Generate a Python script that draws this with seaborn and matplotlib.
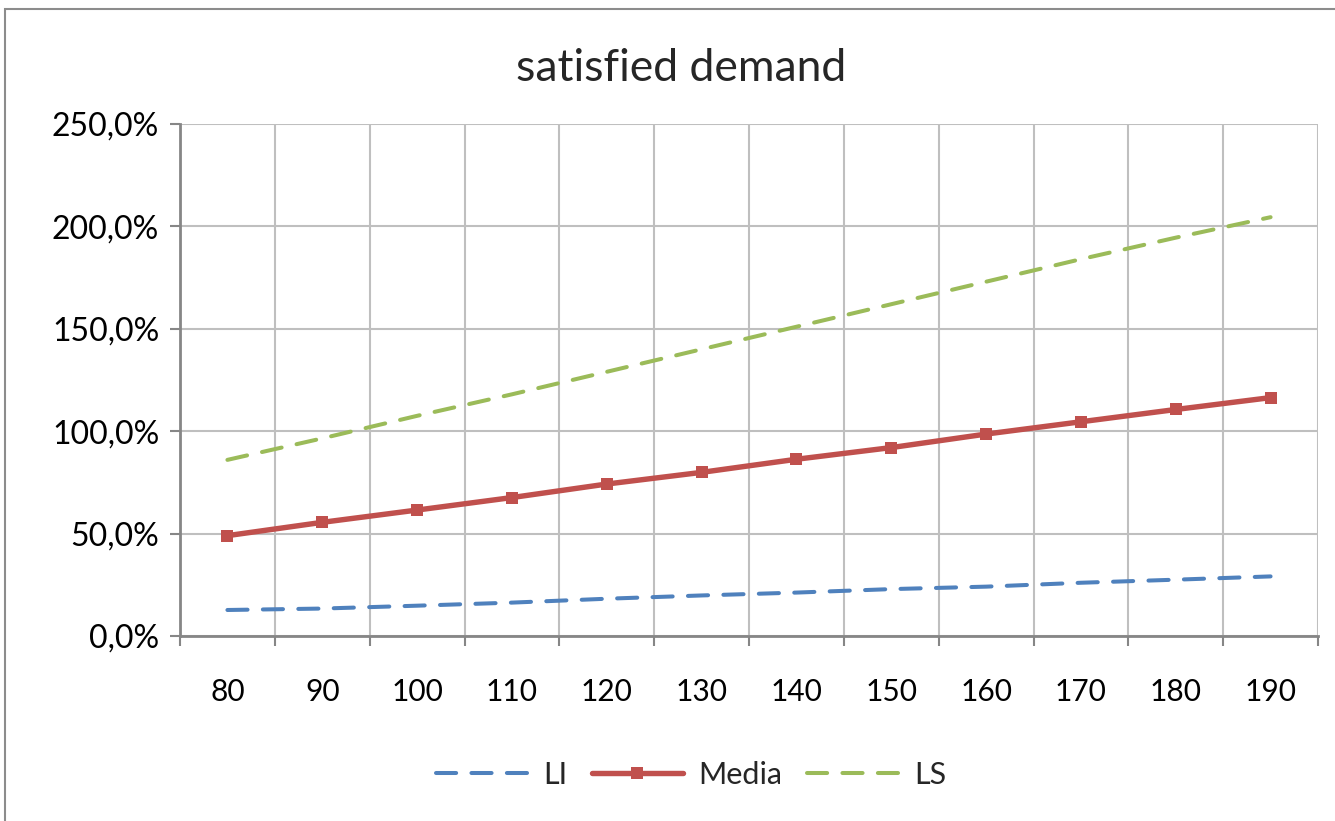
import numpy as np
import pandas as pd
import matplotlib
matplotlib.use("Agg")
import matplotlib.pyplot as plt
import seaborn as sns
from matplotlib.ticker import FuncFormatter, FixedLocator
from matplotlib.patches import Rectangle

# values (percent)
categories = ["80", "90", "100", "110", "120", "130", "140", "150", "160", "170", "180", "190"]
li = [12.7, 13.4, 14.8, 16.3, 18.2, 19.8, 21.2, 22.9, 24.1, 26.0, 27.5, 29.1]
media = [49.0, 55.5, 61.5, 67.6, 74.2, 79.9, 86.3, 92.0, 98.6, 104.6, 110.6, 116.4]
ls = [86.0, 96.5, 107.5, 118.0, 129.0, 140.0, 151.0, 162.0, 173.0, 184.0, 194.5, 204.5]
y_ticks = [0, 50, 100, 150, 200, 250]

pos = np.arange(len(categories))
df = pd.DataFrame({"pos": pos, "LI": li, "Media": media, "LS": ls})

sns.set_theme(style="white")
plt.rcParams["font.family"] = ["Lato", "DejaVu Sans"]

fig = plt.figure(figsize=(13.35, 8.21), dpi=100)
ax = fig.add_axes([180 / 1335, 1 - 636 / 821, 1138 / 1335, 512 / 821])

# outer chart border (Excel chart area)
fig.patches.append(Rectangle((5 / 1335, -0.05), 1.2, 1 - 9 / 821 + 0.05,
                             transform=fig.transFigure, fill=False,
                             edgecolor="#8c8c8c", linewidth=1.5))

blue = "#4F81BD"
red = "#C0504D"
green = "#9BBB59"

sns.lineplot(data=df, x="pos", y="LI", ax=ax, color=blue, linewidth=2.9, label="LI")
ax.lines[-1].set_dashes((5, 3.8))
ax.lines[-1].set_dash_capstyle("round")
sns.lineplot(data=df, x="pos", y="Media", ax=ax, color=red, linewidth=3.9,
             marker="s", markersize=9, markeredgewidth=0, label="Media")
ax.lines[-1].set_solid_capstyle("round")
sns.lineplot(data=df, x="pos", y="LS", ax=ax, color=green, linewidth=2.9, label="LS")
ax.lines[-1].set_dashes((5, 3.8))
ax.lines[-1].set_dash_capstyle("round")

ax.set_xlim(-0.5, len(categories) - 0.5)
ax.set_ylim(0, 250)
ax.set_xlabel("")
ax.set_ylabel("")

ax.xaxis.set_major_locator(FixedLocator(pos))
ax.set_xticklabels(categories)
ax.xaxis.set_minor_locator(FixedLocator(np.arange(-0.5, len(categories), 1.0)))
ax.set_yticks(y_ticks)
ax.yaxis.set_major_formatter(FuncFormatter(lambda v, p: f"{v:.1f}%".replace(".", ",")))

ax.grid(False)
ax.grid(which="minor", axis="x", color="#BFBFBF", linewidth=1.5)
ax.grid(which="major", axis="y", color="#BFBFBF", linewidth=1.5)
ax.set_axisbelow(True)

ax.tick_params(axis="x", which="major", length=0, pad=30, labelsize=21.5, labelcolor="black")
ax.tick_params(axis="x", which="minor", length=7, width=1.5, color="#868686", direction="out", bottom=True)
ax.tick_params(axis="y", which="major", length=7, width=1.5, color="#868686", direction="out",
               left=True, pad=8, labelsize=23, labelcolor="black")

for side in ["top", "right"]:
    ax.spines[side].set_visible(False)
for side in ["left", "bottom"]:
    ax.spines[side].set_color("#868686")
    ax.spines[side].set_linewidth(2)

fig.text(681 / 1335, 1 - 68 / 821, "satisfied demand", ha="center", va="center", fontsize=32)

handles, labels = ax.get_legend_handles_labels()
ax.legend(handles, labels, loc="center", bbox_to_anchor=(691 / 1335, 1 - 775 / 821),
          bbox_transform=fig.transFigure, ncol=3, frameon=False, fontsize=22,
          handlelength=3.0, handletextpad=0.5, columnspacing=0.8)

fig.savefig("out.png", dpi=100)
